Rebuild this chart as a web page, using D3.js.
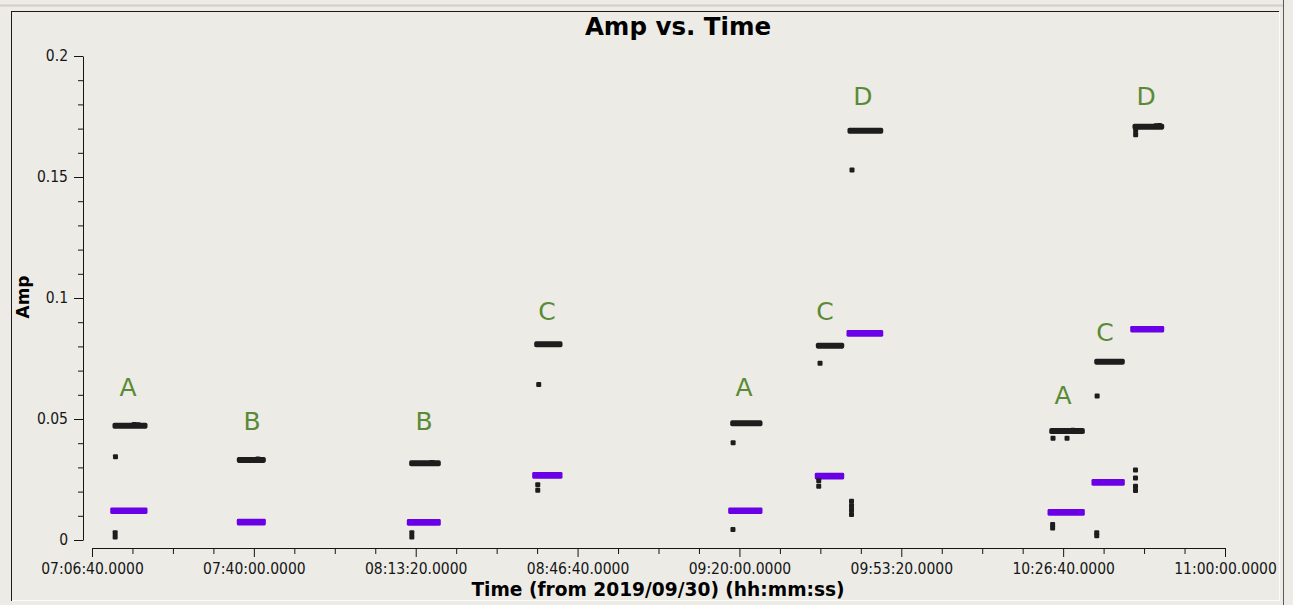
<!DOCTYPE html>
<html>
<head>
<meta charset="utf-8">
<title>Amp vs. Time</title>
<script src="https://cdn.jsdelivr.net/npm/d3@7"></script>
<style>
  html, body { margin: 0; padding: 0; background: #ecebe6; }
  svg { display: block; }
  .tick-label { font-family: "DejaVu Sans Condensed", "DejaVu Sans", sans-serif; font-stretch: condensed; }
  .bold { font-family: "DejaVu Sans", sans-serif; font-weight: bold; }
</style>
</head>
<body>
<svg id="chart" width="1293" height="605"></svg>
<script>
// ---- axis ticks ----
const timeTicks = ["07:06:40", "07:40:00", "08:13:20", "08:46:40", "09:20:00", "09:53:20", "10:26:40", "11:00:00"];
const ampTicks = [0, 0.05, 0.1, 0.15, 0.2];
const ampTickLabels = ["0", "0.05", "0.1", "0.15", "0.2"];

// ---- scans (one per source visit) ----
const scanSource = ["A", "B", "B", "C", "A", "C", "D", "A", "C", "D"];

// correlation 1 (black)
const blackStart = ["07:11:24", "07:37:00", "08:12:30", "08:38:15", "09:18:37", "09:36:15", "09:42:46", "10:24:19", "10:33:35", "10:41:28"];
const blackEnd   = ["07:17:35", "07:41:57", "08:17:59", "08:43:03", "09:24:14", "09:41:04", "09:49:06", "10:30:37", "10:38:51", "10:46:58"];
const blackAmp   = [0.0472, 0.0331, 0.0317, 0.0809, 0.0482, 0.0803, 0.1691, 0.0450, 0.0737, 0.1708];

// correlation 2 (purple)
const purpleStart = ["07:10:56", "07:37:00", "08:12:01", "08:37:50", "09:18:12", "09:36:02", "09:42:34", "10:23:58", "10:33:01", "10:41:00"];
const purpleEnd   = ["07:17:35", "07:41:57", "08:17:59", "08:43:03", "09:24:14", "09:41:04", "09:49:06", "10:30:37", "10:38:51", "10:46:58"];
const purpleAmp   = [0.0121, 0.0074, 0.0073, 0.0267, 0.0121, 0.0264, 0.0854, 0.0114, 0.0238, 0.0871];

// isolated integrations of correlation 1 (black)
const strayTime = [
  "07:11:30", "07:11:26", "07:11:26",
  "08:12:32", "08:12:32",
  "08:38:40", "08:38:28", "08:38:28",
  "09:18:42", "09:18:40",
  "09:36:36", "09:36:20", "09:36:20",
  "09:43:11", "09:43:05", "09:43:05", "09:43:05", "09:43:05",
  "10:24:35", "10:27:28", "10:24:30", "10:24:30",
  "10:33:40", "10:33:35", "10:33:35",
  "10:41:34", "10:41:34", "10:41:34", "10:41:34",
  "10:41:36", "10:41:36",
  "07:15:20", "07:16:10", "07:40:50", "08:16:40", "10:28:40", "10:45:50", "10:46:30"
];
const strayAmp = [
  0.0344, 0.0030, 0.0012,
  0.0030, 0.0012,
  0.0643, 0.0228, 0.0206,
  0.0402, 0.0043,
  0.0730, 0.0245, 0.0222,
  0.1529, 0.0160, 0.0142, 0.0124, 0.0105,
  0.0420, 0.0420, 0.0064, 0.0050,
  0.0595, 0.0030, 0.0018,
  0.0289, 0.0256, 0.0222, 0.0205,
  0.1692, 0.1675,
  0.0477, 0.0476, 0.0335, 0.0320, 0.0454, 0.1712, 0.1713
];

// source name annotations
const labelTime = ["07:14:05", "07:39:37", "08:15:02", "08:40:22", "09:20:57", "09:37:37", "09:45:27", "10:26:38", "10:35:17", "10:43:44"];
const labelAmp  = [0.0595, 0.0455, 0.0455, 0.0909, 0.0595, 0.0909, 0.1798, 0.0562, 0.0822, 0.1798];

// ---- helpers ----
const toSec = s => { const [h, m, sc] = s.split(":").map(Number); return h * 3600 + m * 60 + sc; };
const pad2 = n => String(n).padStart(2, "0");
const fmtTime = v => `${pad2(Math.floor(v / 3600))}:${pad2(Math.floor(v / 60) % 60)}:${pad2(v % 60)}.0000`;

const svg = d3.select("#chart");
const W = 1293, H = 605;

// window frame
svg.append("rect").attr("width", W).attr("height", H).attr("fill", "#ecebe6");
svg.append("line").attr("x1", 0).attr("x2", 1283).attr("y1", 5.5).attr("y2", 5.5)
   .attr("stroke", "#d2cec8").attr("stroke-width", 2);
svg.append("line").attr("x1", 1283.5).attr("x2", 1283.5).attr("y1", 0).attr("y2", H)
   .attr("stroke", "#5a5a5a");
svg.append("line").attr("x1", 11).attr("x2", 1279).attr("y1", 11.5).attr("y2", 11.5).attr("stroke", "#1a1a1a");
svg.append("line").attr("x1", 11.5).attr("x2", 11.5).attr("y1", 11).attr("y2", 601).attr("stroke", "#1a1a1a");
svg.append("line").attr("x1", 1279.5).attr("x2", 1279.5).attr("y1", 12).attr("y2", 601).attr("stroke", "#fbfbfa");
svg.append("line").attr("x1", 12).attr("x2", 1280).attr("y1", 600.5).attr("y2", 600.5).attr("stroke", "#fbfbfa");

// ---- scales ----
const t0 = toSec(timeTicks[0]), t1 = toSec(timeTicks[timeTicks.length - 1]);
const x = d3.scaleLinear().domain([t0, t1]).range([92, 1225]);
const y = d3.scaleLinear().domain([0, 0.2]).range([540, 56]);

// ---- axes ----
const axisColor = "#151515";
const majorX = timeTicks.map(toSec);
const minorX = d3.range(t0, t1 + 1, 500).filter(v => !majorX.includes(v));

const gxMinor = svg.append("g").attr("transform", "translate(0,548)")
  .call(d3.axisBottom(x).tickValues(minorX).tickSize(6).tickSizeOuter(0).tickFormat(""));
gxMinor.select(".domain").remove();
const gx = svg.append("g").attr("transform", "translate(0,548)")
  .call(d3.axisBottom(x).tickValues(majorX).tickSize(9).tickSizeOuter(0).tickFormat(fmtTime));
gx.selectAll("text").attr("class", "tick-label").attr("y", 26).attr("dy", null)
  .attr("font-size", 15.5).attr("fill", "#161616");

const minorY = d3.range(0, 0.2001, 0.01).map(v => +v.toFixed(2)).filter(v => !ampTicks.includes(v));
const gyMinor = svg.append("g").attr("transform", "translate(83,0)")
  .call(d3.axisLeft(y).tickValues(minorY).tickSize(5).tickSizeOuter(0).tickFormat(""));
gyMinor.select(".domain").remove();
const gy = svg.append("g").attr("transform", "translate(83,0)")
  .call(d3.axisLeft(y).tickValues(ampTicks).tickSize(9).tickPadding(6).tickSizeOuter(0)
        .tickFormat((d, i) => ampTickLabels[i]));
gy.selectAll("text").attr("class", "tick-label").attr("font-size", 15.5).attr("fill", "#161616");

svg.selectAll(".domain, .tick line").attr("stroke", axisColor);
svg.selectAll(".tick text").attr("font-family", null);

// titles
svg.append("text").attr("class", "bold").attr("x", 678).attr("y", 35)
  .attr("text-anchor", "middle").attr("font-size", 24.5).attr("fill", "#000").text("Amp vs. Time");
svg.append("text").attr("class", "bold").attr("x", 658).attr("y", 596)
  .attr("text-anchor", "middle").attr("font-size", 18.6).attr("fill", "#000")
  .text("Time (from 2019/09/30) (hh:mm:ss)");
svg.append("text").attr("class", "bold").attr("transform", "translate(29,297) rotate(-90)")
  .attr("text-anchor", "middle").attr("font-size", 17).attr("fill", "#000").text("Amp");

// ---- data marks ----
const black = "#1d1d1d", purple = "#6a00e6";
const idx = d3.range(scanSource.length);
const plot = svg.append("g");

plot.selectAll(".strip-p").data(idx).join("rect").attr("class", "strip-p")
  .attr("x", i => x(toSec(purpleStart[i])) - 2.5)
  .attr("width", i => x(toSec(purpleEnd[i])) - x(toSec(purpleStart[i])) + 5)
  .attr("y", i => y(purpleAmp[i]) - 3.3).attr("height", 6.6).attr("rx", 1.4)
  .attr("fill", purple);

plot.selectAll(".strip-b").data(idx).join("rect").attr("class", "strip-b")
  .attr("x", i => x(toSec(blackStart[i])) - 2.5)
  .attr("width", i => x(toSec(blackEnd[i])) - x(toSec(blackStart[i])) + 5)
  .attr("y", i => y(blackAmp[i]) - 3).attr("height", 6).attr("rx", 1.8)
  .attr("fill", black);

plot.selectAll(".stray").data(d3.range(strayTime.length)).join("rect").attr("class", "stray")
  .attr("x", i => x(toSec(strayTime[i])) - 2.5)
  .attr("y", i => y(strayAmp[i]) - 2.5)
  .attr("width", 5).attr("height", 5).attr("rx", 1)
  .attr("fill", black);

// source names
plot.selectAll(".src").data(idx).join("text").attr("class", "src")
  .attr("x", i => x(toSec(labelTime[i])))
  .attr("y", i => y(labelAmp[i]))
  .attr("text-anchor", "middle")
  .attr("font-family", "DejaVu Sans, sans-serif")
  .attr("font-size", 25)
  .attr("fill", "#5a8a35")
  .text(i => scanSource[i]);
</script>
</body>
</html>
